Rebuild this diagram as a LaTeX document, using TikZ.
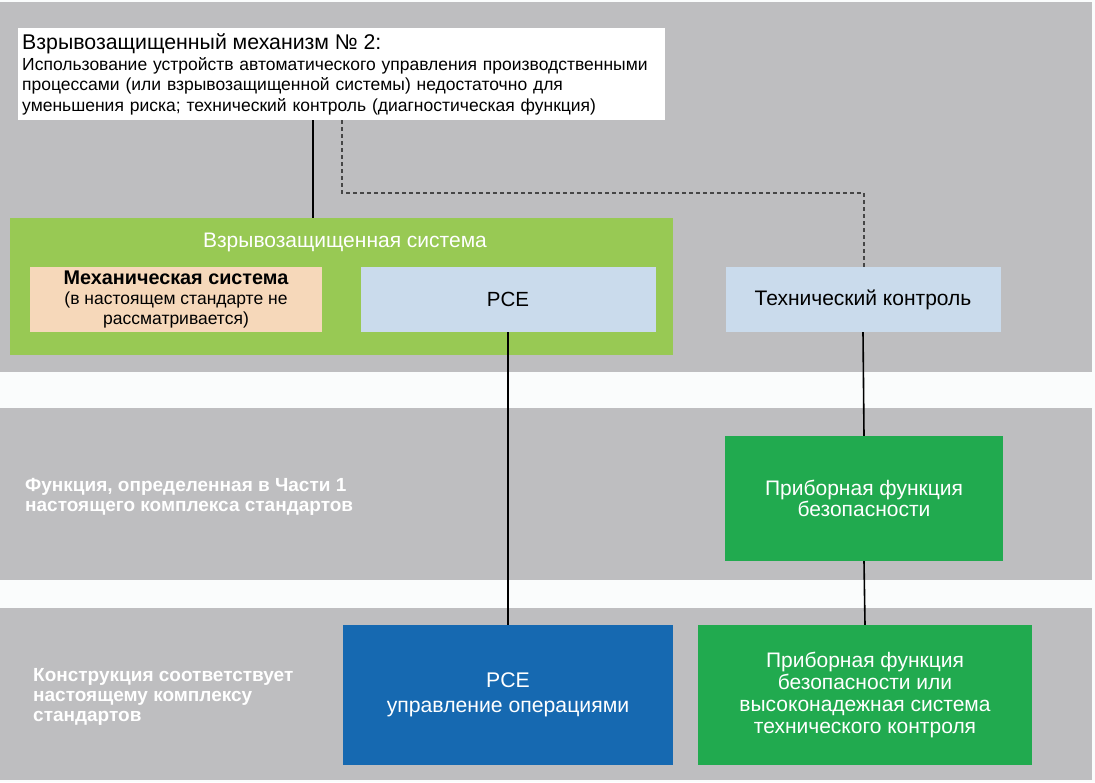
\documentclass[tikz,border=0pt]{standalone}
\usepackage{fontspec}
\setmainfont{Liberation Sans}
\usetikzlibrary{calc,math}

\definecolor{bandgray}{RGB}{190,190,192}
\definecolor{gapwhite}{RGB}{250,252,252}
\definecolor{sysgreen}{RGB}{152,201,84}
\definecolor{mechpeach}{RGB}{246,216,186}
\definecolor{pceblue}{RGB}{202,219,236}
\definecolor{sifgreen}{RGB}{33,170,79}
\definecolor{opblue}{RGB}{22,105,177}
\definecolor{linkgray}{RGB}{70,70,70}

\begin{document}
\begin{tikzpicture}[x=1pt, y=-1pt,
    every node/.style={inner sep=0pt, align=center},
    link/.style={line width=1.6pt, black},
    dashlink/.style={line width=1.6pt, linkgray, dash pattern=on 4pt off 3pt}]
  \tikzmath{\rowh = 65; \boxh = 140;}

  % background bands
  \fill[gapwhite] (0,0) rectangle (1095,782);
  \fill[bandgray] (0,2) rectangle (1092,372);
  \fill[bandgray] (0,408) rectangle (1092,580);
  \fill[bandgray] (0,608) rectangle (1092,780);

  % top: mechanism 2
  \node[fill=white, anchor=north west, minimum width=647, minimum height=92,
        text width=639, align=left, font=\fontsize{17.5}{20.5}\selectfont]
        (mech2) at (18,28)
        {{\fontsize{21.3}{22}\selectfont Взрывозащищенный механизм № 2:}\\
         Использование устройств автоматического управления производственными\\
         процессами (или взрывозащищенной системы) недостаточно для\\
         уменьшения риска; технический контроль (диагностическая функция)};

  % protected system with its parts
  \node[fill=sysgreen, minimum width=663, minimum height=137] (sys) at (341.5,286.5) {};
  \node[text=white, font=\fontsize{21}{23}\selectfont] (syslbl) at (345,242) {Взрывозащищенная система};
  \node[fill=mechpeach, minimum width=292, minimum height=\rowh, font=\fontsize{17.5}{20}\selectfont]
        (mechsys) at (176,299.5)
        {{\bfseries\fontsize{19.8}{21}\selectfont Механическая система}\\(в настоящем стандарте не\\рассматривается)};
  \node[fill=pceblue, minimum width=295, minimum height=\rowh, font=\fontsize{20.5}{23}\selectfont]
        (pce) at (508,299.5) {PCE};
  \node[fill=pceblue, minimum width=275, minimum height=\rowh, font=\fontsize{21}{23}\selectfont]
        (tech) at (863,299.5) {Технический контроль};

  % middle row
  \node[anchor=west, align=left, text=white, font=\bfseries\fontsize{19}{20}\selectfont]
        (partlbl) at (25,497) {Функция, определенная в Части 1\\настоящего комплекса стандартов};
  \node[fill=sifgreen, text=white, minimum width=278, minimum height=125,
        font=\fontsize{21}{21.5}\selectfont]
        (sif) at (864,498.5) {Приборная функция\\безопасности};

  % bottom row
  \node[anchor=west, align=left, text=white, font=\bfseries\fontsize{19}{20}\selectfont]
        (conflbl) at (33,697) {Конструкция соответствует\\настоящему комплексу\\стандартов};
  \node[fill=opblue, text=white, minimum width=330, minimum height=\boxh,
        font=\fontsize{21.2}{25}\selectfont]
        (pceop) at (508,695) {PCE\\управление операциями};
  \node[fill=sifgreen, text=white, minimum width=334, minimum height=\boxh,
        font=\fontsize{21}{21.7}\selectfont]
        (sifhi) at (865,695)
        {Приборная функция\\безопасности или\\высоконадежная система\\технического контроля};

  % links
  \coordinate (bend) at (864,193);
  \draw[link] ([xshift=-28.5]mech2.south) -- ([xshift=-28.5]mech2.south |- sys.north);
  \draw[dashlink] (mech2.south) |- (bend) -- (bend |- tech.north);
  \draw[link] (pce.south) -- (pceop.north);
  \draw[link] (tech.south) -- (sif.north);
  \draw[link] (sif.south) -- (sifhi.north);
\end{tikzpicture}
\end{document}
